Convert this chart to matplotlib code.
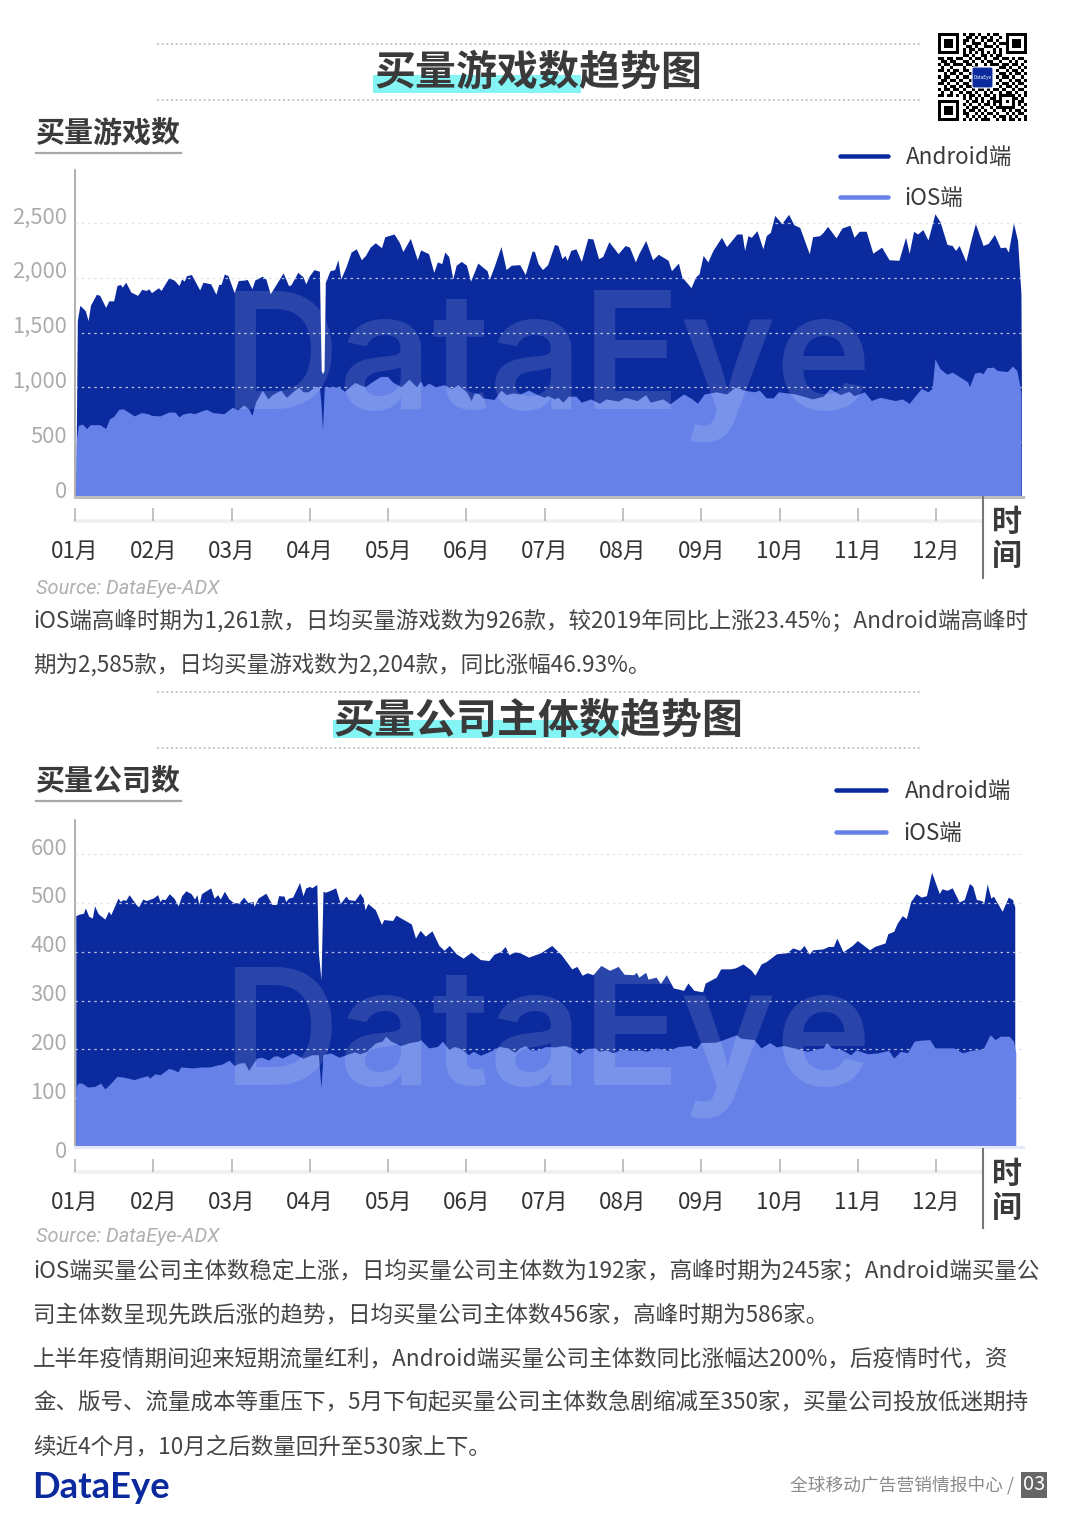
import numpy as np
import matplotlib
matplotlib.use('Agg')
import matplotlib.pyplot as plt
from matplotlib.patches import Rectangle, FancyBboxPatch
from matplotlib.transforms import ScaledTranslation

plt.rcParams['font.family'] = ['Noto Sans CJK SC', 'DejaVu Sans']

W, H = 1080, 1527
NAVY = '#0B2A9E'
BLUE = '#6682E8'
DARK = '#3A3A3A'

months = ['01月', '02月', '03月', '04月', '05月', '06月', '07月', '08月', '09月', '10月', '11月', '12月']
month_days = [0, 30.4, 60.8, 91.2, 121.6, 152, 182.4, 212.8, 243.2, 273.6, 304, 334.4]

games_ticks = [0, 500, 1000, 1500, 2000, 2500]
firms_ticks = [0, 100, 200, 300, 400, 500, 600]

# 买量游戏数 - Android端
games_android_days = [
    0.3, 0.5, 0.9, 1.9, 4.0, 5.1, 6.0, 8.3, 9.6, 11.9, 13.1, 15.0, 16.3, 17.6, 18.3, 19.7, 21.7, 24.3, 25.9, 27.7,
    28.6, 29.7, 32.4, 33.4, 36.4, 38.4, 40.4, 41.4, 42.4, 43.3, 45.2, 48.4, 49.7, 52.7, 54.7, 55.8, 56.7, 58.0, 59.4, 61.8,
    63.4, 65.8, 66.9, 68.7, 69.8, 72.7, 74.1, 75.8, 77.8, 80.8, 82.9, 83.8, 86.5, 88.5, 89.6, 90.9, 92.8, 94.9, 95.6, 96.1,
    96.7, 97.2, 99.0, 100.8, 102.1, 103.2, 105.2, 107.2, 109.2, 111.2, 112.8, 114.6, 116.6, 119.0, 120.3, 123.9, 125.9, 127.3, 130.2, 132.9,
    134.2, 137.3, 139.3, 140.7, 142.4, 143.6, 145.1, 146.7, 148.0, 150.0, 152.0, 153.6, 156.4, 160.0, 160.9, 162.7, 165.4, 167.4, 169.4, 172.7,
    174.8, 177.5, 178.4, 179.8, 181.5, 183.5, 186.2, 187.5, 189.1, 190.2, 191.1, 192.5, 194.5, 196.6, 199.1, 201.1, 203.3, 204.9, 207.3, 210.9,
    213.6, 215.3, 217.6, 218.9, 221.6, 224.3, 226.5, 230.3, 231.6, 234.3, 235.6, 239.2, 241.0, 242.3, 243.9, 245.7, 247.7, 251.0, 253.0, 257.0,
    259.0, 260.0, 261.3, 262.6, 264.8, 267.1, 268.4, 270.0, 271.7, 274.4, 277.1, 279.1, 281.4, 285.1, 286.4, 289.1, 290.5, 292.2, 295.5, 297.8,
    300.9, 302.5, 304.5, 307.2, 309.8, 313.2, 316.1, 319.9, 322.5, 323.9, 325.6, 327.2, 329.2, 331.2, 333.9, 335.9, 338.6, 340.6, 341.9, 343.3,
    345.9, 348.0, 349.6, 352.6, 354.6, 357.0, 359.3, 361.3, 362.4, 364.4, 366.0, 367.3, 367.5]
games_android = [
    0, 550, 1610, 1750, 1700, 1610, 1750, 1850, 1840, 1730, 1790, 1790, 1930, 1940, 1915, 1960, 1870, 1840, 1895, 1885,
    1900, 1865, 1910, 1885, 2000, 1980, 1930, 1990, 1970, 2020, 2030, 1890, 1960, 1945, 1850, 1940, 1940, 2035, 2020, 1865,
    1975, 1980, 1985, 1900, 1980, 2015, 1990, 1855, 1930, 2045, 1930, 1935, 2050, 2010, 1945, 2015, 2075, 2060, 1155, 1125,
    1155, 1960, 2065, 2075, 2165, 1990, 2100, 2235, 2265, 2165, 2205, 2280, 2320, 2275, 2375, 2400, 2325, 2240, 2360, 2165,
    2255, 2220, 2050, 2145, 2130, 2235, 2195, 1990, 2115, 2150, 2115, 1970, 2135, 2065, 1990, 2100, 2285, 2075, 2115, 2120,
    2030, 2245, 2240, 2130, 2075, 2120, 2305, 2295, 2175, 2205, 2160, 2250, 2265, 2150, 2360, 2355, 2175, 2195, 2330, 2220,
    2295, 2280, 2145, 2220, 2340, 2165, 2215, 2160, 2065, 2135, 2010, 1910, 2010, 2035, 2205, 2145, 2250, 2370, 2285, 2400,
    2400, 2250, 2385, 2370, 2430, 2265, 2385, 2415, 2570, 2495, 2580, 2485, 2460, 2220, 2375, 2385, 2415, 2470, 2365, 2455,
    2480, 2370, 2425, 2425, 2225, 2280, 2165, 2160, 2370, 2225, 2425, 2400, 2440, 2345, 2585, 2510, 2305, 2295, 2250, 2295,
    2150, 2355, 2495, 2295, 2315, 2395, 2275, 2280, 2235, 2500, 2340, 1855, 970]

# 买量游戏数 - iOS端
games_ios_days = [
    0.3, 0.5, 1.3, 2.9, 4.5, 5.9, 9.6, 11.9, 13.4, 15.0, 17.0, 18.7, 23.0, 25.7, 28.3, 29.7, 33.0, 36.4, 38.8, 40.4,
    41.7, 44.4, 46.4, 49.1, 51.1, 53.5, 57.8, 61.1, 63.1, 65.5, 67.4, 68.7, 70.1, 72.7, 74.9, 76.7, 79.8, 82.1, 84.5, 86.9,
    88.5, 90.5, 93.2, 94.9, 95.5, 96.1, 96.8, 99.9, 102.5, 104.6, 108.6, 112.6, 115.2, 118.6, 121.3, 123.3, 126.6, 129.7, 132.6, 134.2,
    135.3, 137.3, 140.0, 143.3, 146.0, 148.7, 152.0, 153.8, 155.1, 157.0, 158.3, 162.7, 165.4, 167.4, 170.1, 172.8, 176.1, 179.5, 182.2, 183.5,
    186.2, 187.5, 189.5, 191.5, 194.5, 196.6, 200.2, 203.6, 206.2, 210.9, 213.6, 218.3, 221.6, 223.3, 228.3, 231.0, 233.6, 236.3, 239.6, 241.7,
    244.3, 249.0, 253.0, 256.4, 259.7, 263.7, 265.7, 268.4, 271.1, 273.1, 279.8, 286.4, 290.5, 293.1, 297.1, 300.5, 302.5, 306.5, 309.2, 312.5,
    318.5, 321.2, 323.9, 328.6, 331.2, 332.8, 333.9, 335.9, 338.6, 340.6, 346.6, 347.3, 349.3, 351.3, 352.6, 354.0, 356.6, 358.0, 362.0, 364.0,
    365.7, 366.7, 367.3]
games_ios = [
    0, 515, 655, 665, 625, 660, 660, 625, 715, 735, 800, 805, 740, 770, 760, 745, 740, 775, 775, 730,
    755, 770, 760, 785, 800, 770, 760, 820, 795, 840, 805, 745, 865, 975, 895, 935, 975, 910, 960, 1005,
    960, 960, 1010, 1005, 850, 610, 1005, 1005, 1005, 965, 1045, 1005, 1050, 1100, 1100, 1050, 1005, 1075, 1005, 1060,
    1005, 1040, 1005, 1025, 990, 1025, 960, 880, 950, 940, 905, 890, 975, 935, 950, 940, 975, 935, 910, 925,
    895, 910, 865, 920, 920, 865, 895, 855, 895, 875, 910, 880, 935, 865, 895, 850, 895, 940, 895, 855,
    940, 960, 940, 1005, 975, 960, 975, 905, 905, 960, 940, 895, 920, 990, 935, 965, 925, 960, 880, 910,
    880, 895, 855, 990, 960, 990, 1260, 1170, 1120, 1140, 1050, 1005, 1130, 1140, 1125, 1180, 1185, 1155, 1145, 1195,
    1155, 1035, 940]

# 买量公司数 - Android端
firms_android_days = [
    0.3, 1.6, 3.3, 4.0, 5.3, 6.7, 7.6, 9.0, 11.6, 13.0, 13.9, 16.7, 17.6, 18.7, 19.7, 21.0, 23.7, 24.7, 26.3, 27.7,
    30.3, 32.1, 33.0, 33.7, 35.0, 36.6, 38.4, 40.1, 41.4, 43.1, 45.1, 46.4, 47.3, 48.1, 49.1, 52.7, 54.0, 55.4, 56.4, 58.0,
    59.8, 61.8, 63.8, 65.5, 67.1, 69.1, 69.5, 71.1, 74.1, 76.5, 78.2, 79.1, 81.2, 81.8, 82.9, 84.5, 87.2, 88.5, 89.6, 91.2,
    91.9, 93.9, 94.5, 95.5, 96.3, 97.2, 99.2, 101.2, 103.0, 105.2, 106.2, 108.6, 110.6, 111.9, 112.6, 113.7, 116.6, 119.0, 119.9, 123.3,
    124.6, 130.6, 132.2, 134.0, 136.0, 138.6, 141.3, 143.3, 145.3, 148.0, 150.7, 153.8, 157.4, 160.7, 162.7, 165.4, 167.0, 168.5, 170.7, 172.8,
    176.1, 180.8, 185.1, 188.8, 192.9, 194.9, 196.9, 198.9, 201.1, 204.2, 207.6, 210.9, 213.2, 216.9, 218.0, 218.9, 221.6, 222.5, 225.6, 227.3,
    229.6, 232.3, 236.3, 238.0, 240.3, 243.7, 244.7, 249.0, 250.7, 254.4, 256.4, 259.4, 262.6, 264.0, 266.4, 268.4, 272.4, 276.4, 278.7, 281.4,
    283.1, 285.1, 286.4, 290.5, 292.5, 294.5, 295.8, 298.2, 301.8, 303.8, 308.5, 310.5, 314.5, 315.6, 317.9, 319.2, 321.2, 322.8, 324.5, 326.6,
    328.6, 330.6, 332.6, 335.6, 336.6, 338.6, 340.6, 343.3, 345.3, 347.3, 348.6, 350.0, 352.0, 352.9, 354.2, 355.6, 356.6, 360.0, 362.4, 364.0,
    364.9]
firms_android = [
    474, 477, 479, 490, 473, 469, 494, 478, 467, 483, 476, 510, 503, 507, 505, 517, 497, 492, 508, 505,
    510, 517, 503, 508, 507, 519, 510, 494, 515, 525, 519, 508, 517, 497, 519, 531, 510, 517, 508, 524,
    508, 500, 501, 512, 501, 503, 493, 510, 520, 497, 497, 515, 514, 503, 510, 512, 542, 515, 531, 534,
    531, 538, 398, 343, 524, 522, 526, 531, 499, 514, 507, 505, 520, 510, 486, 499, 486, 456, 466, 464,
    475, 457, 428, 444, 432, 443, 413, 403, 413, 396, 387, 399, 384, 382, 395, 401, 411, 394, 400, 398,
    389, 398, 413, 394, 365, 370, 352, 357, 353, 372, 362, 370, 354, 353, 358, 348, 358, 344, 348, 335,
    353, 326, 321, 336, 321, 318, 336, 348, 365, 365, 367, 375, 362, 352, 375, 380, 396, 398, 408, 403,
    413, 395, 404, 406, 411, 411, 428, 400, 413, 423, 404, 411, 418, 437, 442, 458, 474, 468, 503, 519,
    512, 515, 563, 519, 529, 526, 531, 502, 507, 540, 534, 507, 505, 500, 539, 510, 514, 483, 512, 507,
    492]

# 买量公司数 - iOS端
firms_ios_days = [
    0.3, 1.3, 2.7, 4.9, 7.6, 9.9, 11.6, 13.4, 16.3, 19.0, 23.0, 25.7, 28.3, 29.0, 31.0, 33.0, 36.4, 38.4, 40.0, 41.0,
    45.7, 49.1, 52.4, 54.4, 57.1, 59.8, 61.8, 63.8, 65.8, 67.4, 70.5, 72.5, 75.1, 77.1, 78.5, 80.5, 84.5, 88.5, 91.9, 94.5,
    95.5, 96.3, 99.2, 102.5, 105.2, 108.6, 110.6, 113.2, 116.6, 119.3, 120.6, 122.6, 126.6, 129.9, 133.3, 134.2, 137.3, 140.7, 142.7, 145.3,
    147.3, 150.0, 152.7, 154.7, 157.4, 160.7, 164.7, 168.1, 170.7, 172.8, 174.8, 176.8, 179.5, 182.8, 186.2, 190.2, 192.9, 195.8, 198.2, 201.5,
    203.6, 206.2, 208.9, 212.2, 215.6, 219.6, 222.0, 225.6, 230.3, 234.3, 239.0, 240.7, 243.0, 249.0, 251.7, 256.8, 258.4, 263.7, 266.4, 269.7,
    272.4, 275.1, 279.1, 284.4, 287.8, 290.5, 291.8, 293.8, 297.8, 301.2, 303.2, 307.8, 311.8, 315.9, 317.9, 320.5, 323.2, 325.9, 328.6, 331.9,
    333.9, 341.3, 344.6, 348.0, 352.6, 355.3, 357.3, 359.3, 362.7, 364.4, 365.3]
firms_ios = [
    124, 131, 131, 123, 124, 131, 119, 128, 145, 143, 138, 143, 146, 141, 150, 148, 161, 158, 154, 164,
    162, 164, 164, 167, 170, 178, 167, 172, 173, 157, 182, 184, 178, 186, 187, 182, 193, 182, 189, 189,
    121, 189, 193, 184, 189, 195, 191, 196, 213, 217, 227, 217, 208, 214, 217, 220, 203, 206, 217, 199,
    206, 201, 189, 196, 188, 195, 206, 203, 194, 203, 208, 199, 199, 206, 205, 208, 203, 191, 201, 203,
    196, 199, 193, 201, 198, 199, 196, 203, 198, 206, 208, 199, 214, 215, 220, 230, 223, 220, 203, 214,
    205, 208, 203, 196, 201, 203, 214, 203, 199, 189, 199, 191, 193, 198, 182, 196, 193, 217, 219, 220,
    203, 203, 193, 198, 201, 230, 220, 227, 227, 217, 193]

games_note = ['iOS端高峰时期为1,261款，日均买量游戏数为926款，较2019年同比上涨23.45%；Android端高峰时',
              '期为2,585款，日均买量游戏数为2,204款，同比涨幅46.93%。']
firms_note = ['iOS端买量公司主体数稳定上涨，日均买量公司主体数为192家，高峰时期为245家；Android端买量公',
              '司主体数呈现先跌后涨的趋势，日均买量公司主体数456家，高峰时期为586家。',
              '上半年疫情期间迎来短期流量红利，Android端买量公司主体数同比涨幅达200%，后疫情时代，资',
              '金、版号、流量成本等重压下，5月下旬起买量公司主体数急剧缩减至350家，买量公司投放低迷期持',
              '续近4个月，10月之后数量回升至530家上下。']

qr_rows = [
    '11111110101101001011001111111', '10000010011010110100101000001', '10111010110100101101001011101',
    '10111010100111010010111011101', '10111010011010011101001011101', '10000010101101100010101000001',
    '11111110101010101010101111111', '00000000110100110101100000000', '11011011001011010011011010110',
    '01101100110100101100100101001', '10110111011010010111011011010', '01001000100110000000110100101',
    '11010110110100000001001011010', '00101101001010000000110101101', '10110010110110000001011010010',
    '01101101001000000000100101101', '11010010110100000001011010110', '00101101011010000000101101001',
    '10110110100101101011010010110', '01001001011010010100101101001', '11011010101101011010111110101',
    '00000000101010100110100011010', '11111110010110101011101010110', '10000010101001011010100010101',
    '10111010010110100101111110010', '10111010101101010010010101101', '10111010110010101101001010110',
    '10000010010101010010110101001', '11111110101010111001010110101']

fig = plt.figure(figsize=(W / 100, H / 100), dpi=100)
px = 72 / 100  # points per pixel


def make_axes(top, bottom, ymax):
    ax = fig.add_axes([75 / W, 1 - bottom / H, (1023 - 75) / W, (bottom - top) / H])
    ax.set_xlim(0, 368.1)
    ax.set_ylim(0, ymax)
    ax.patch.set_alpha(0)
    return ax


def draw_chart(ax, android_days, android, ios_days, ios, yticks, base_color, spine_gap, zero_shift):
    ax.fill_between(android_days, 0, android, color=NAVY, lw=0, zorder=2)
    ax.fill_between(ios_days, 0, ios, color=BLUE, lw=0, zorder=3)
    ax.set_yticks(yticks)
    ax.set_yticklabels([f'{v:,}' for v in yticks])
    ax.grid(axis='y', color='#DADDE8', lw=0.9, ls=(0, (2, 3)), alpha=0.85, zorder=4)
    ax.set_axisbelow(False)
    ax.tick_params(axis='y', length=0, pad=8 * px, labelsize=22 * px, labelcolor='#ABABAB')
    for i, lab in enumerate(ax.get_yticklabels()):
        up = zero_shift if i == 0 else 8
        lab.set_transform(lab.get_transform() + ScaledTranslation(0, up / 100, fig.dpi_scale_trans))
    for side in ['top', 'right']:
        ax.spines[side].set_visible(False)
    ax.spines['left'].set_color('#9A9A9A')
    ax.spines['left'].set_linewidth(1.1)
    ax.axhline(0, color=base_color, lw=2.2, clip_on=False, zorder=5)
    # month axis sits below the chart, the ticks point up from it
    ax.spines['bottom'].set_position(('outward', spine_gap * px))
    ax.spines['bottom'].set_color('#EFEFEF')
    ax.spines['bottom'].set_linewidth(2.6)
    ax.spines['bottom'].set_bounds(0, 352)
    ax.set_xticks(month_days)
    ax.set_xticklabels(months)
    ax.tick_params(axis='x', direction='in', length=13 * px, width=1.1, color='#B0B0B0',
                   pad=19 * px, labelsize=22.5 * px, labelcolor='#333333')


ax1 = make_axes(170, 497, 2984)
draw_chart(ax1, games_android_days, games_android, games_ios_days, games_ios, games_ticks, '#BDBDBD', 24, 8)
ax2 = make_axes(820, 1147, 670)
draw_chart(ax2, firms_android_days, firms_android, firms_ios_days, firms_ios, firms_ticks, '#E4E8F8', 25, -2)

# page furniture goes on one overlay in picture pixels
page = fig.add_axes([0, 0, 1, 1], zorder=10)
page.patch.set_alpha(0)
page.axis('off')

qr = np.array([[int(c) for c in r.ljust(29, '0')[:29]] for r in qr_rows])
page.imshow(qr, cmap='gray_r', extent=(938, 1027, 121, 33), interpolation='nearest', aspect='auto')
page.set_xlim(0, W)
page.set_ylim(H, 0)
page.add_patch(FancyBboxPatch((974, 69), 17, 17, boxstyle='round,pad=2,rounding_size=2', fc=NAVY, ec='white', lw=0.8, zorder=3))
page.text(982.5, 77.5, 'DataEye', color='white', fontsize=3.4, ha='center', va='center', zorder=4)


def label(x, y, s, **kw):
    kw.setdefault('va', 'center')
    # the CJK face sits a little high when centred
    page.text(x, y + 2, s, **kw)


def section(title, x0, x1, hl_end, hl_y, y_title, y_top, y_bot, sub, y_sub):
    page.add_patch(Rectangle((x0, hl_y), hl_end - x0, 18, fc='#85F4F5', ec='none', zorder=1))
    for y in (y_top, y_bot):
        page.plot([157, 920], [y, y], color='#BDBDBD', lw=1.2, ls=(0, (1.2, 1.6)))
    label((x0 + x1) / 2, y_title, title, ha='center', fontsize=41 * px, fontweight='bold', color=DARK, zorder=2)
    label(36, y_sub, sub, fontsize=29 * px, fontweight='bold', color=DARK)
    page.plot([36, 181], [y_sub + 22, y_sub + 22], color='#A8A8A8', lw=1.6)


section('买量游戏数趋势图', 373, 703, 581, 75, 71, 44, 100, '买量游戏数', 131)
section('买量公司主体数趋势图', 333, 743, 619, 720, 719, 692, 748, '买量公司数', 779)


def legend(x0, x1, y_a, y_i, x_text):
    page.plot([x0, x1], [y_a, y_a], color=NAVY, lw=4.5 * px, solid_capstyle='round')
    page.plot([x0, x1], [y_i, y_i], color=BLUE, lw=4.5 * px, solid_capstyle='round')
    label(x_text, y_a, 'Android端', fontsize=22.5 * px, color=DARK, fontweight='medium')
    label(x_text - 2, y_i, 'iOS端', fontsize=22.5 * px, color=DARK, fontweight='medium')


legend(840, 888, 156, 197, 906)
legend(836, 886, 790, 832, 905)

for top, y_a, y_b, end in [(497, 520, 554, 578), (1149, 1172, 1206, 1228)]:
    page.plot([983, 983], [top, end], color='#777777', lw=1.5)
    label(1007, y_a, '时', ha='center', fontsize=30 * px, fontweight='bold', color=DARK)
    label(1007, y_b, '间', ha='center', fontsize=30 * px, fontweight='bold', color=DARK)

for y in (587, 1235):
    label(36, y, 'Source: DataEye-ADX', fontsize=20 * px, style='italic', color='#B0B0B0',
          family=['Roboto'])

for y, s in zip([619, 663], games_note):
    label(33, y, s, fontsize=22.55 * px, color='#444444')
for y, s in zip([1269, 1313, 1357, 1401, 1445], firms_note):
    label(33, y, s, fontsize=22.55 * px, color='#444444')

# faint wordmark across both charts
for y in (408, 1085):
    page.text(222, y, 'DataEye', fontsize=162 * px, color='white', alpha=0.13, family=['Inter'],
              fontweight='semibold', va='baseline', ha='left', zorder=6)

label(32, 1485, 'DataEye', fontsize=36.5 * px, fontweight='bold', color=NAVY, family=['Lato'])
label(790, 1483, '全球移动广告营销情报中心 /', fontsize=17.7 * px, color='#8A8A8A')
page.add_patch(Rectangle((1021, 1472), 26, 26, fc='#666666', ec='none'))
label(1034, 1483, '03', ha='center', fontsize=20 * px, color='white')

fig.savefig('out.png', dpi=100)
